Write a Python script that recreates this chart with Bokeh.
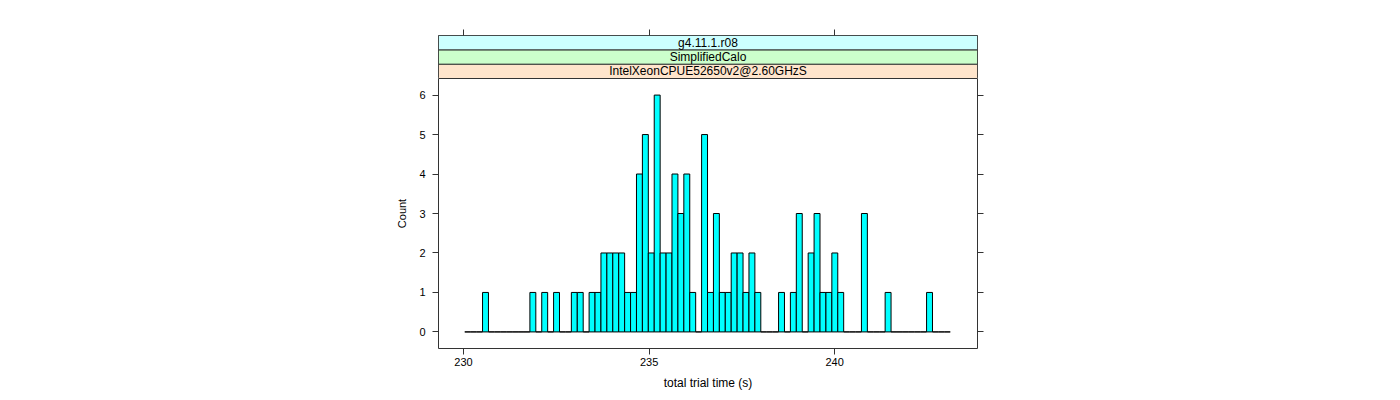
from bokeh.plotting import figure
from bokeh.models import Range1d, LinearAxis, FixedTicker, ColumnDataSource
from bokeh.layouts import column
from bokeh.embed import file_html
from bokeh.resources import INLINE
from bokeh.core.properties import value

# ---- data ----
bin_start = 230.035
bin_width = 0.1595
counts = [
    0, 0, 0, 1, 0, 0, 0, 0, 0, 0,
    0, 1, 0, 1, 0, 1, 0, 0, 1, 1,
    0, 1, 1, 2, 2, 2, 2, 1, 1, 4,
    5, 2, 6, 2, 2, 4, 3, 4, 1, 0,
    5, 1, 3, 1, 1, 2, 2, 1, 2, 1,
    0, 0, 0, 1, 0, 1, 3, 0, 2, 3,
    1, 1, 2, 1, 0, 0, 0, 3, 0, 0,
    0, 1, 0, 0, 0, 0, 0, 0, 1, 0,
    0, 0,
]
x_ticks = [230, 235, 240]
y_ticks = [0, 1, 2, 3, 4, 5, 6]
strip_labels = ["IntelXeonCPUE52650v2@2.60GHzS", "SimplifiedCalo", "g4.11.1.r08"]
strip_colors = ["#FFE5CC", "#CCFFCC", "#CCFFFF"]
x_label = "total trial time (s)"
y_label = "Count"

FONT = "Liberation Sans"
LINE = "#333333"

lefts = [bin_start + i * bin_width for i in range(len(counts))]
rights = [l + bin_width for l in lefts]
src = ColumnDataSource(dict(left=lefts, right=rights, top=counts, bottom=[0] * len(counts)))

x_range = Range1d(229.327, 243.848)

BL, BR = 438, 407

# ---- strip figure ----
strip = figure(width=1384, height=78, x_range=x_range, y_range=Range1d(0, 3),
               x_axis_location="above", y_axis_location=None,
               output_backend="svg", toolbar_location=None,
               min_border_left=BL, min_border_right=BR,
               min_border_top=35, min_border_bottom=0)
strip.grid.visible = False
strip.outline_line_color = LINE
n = len(strip_labels)
strip.quad(left=[x_range.start] * n, right=[x_range.end] * n,
           bottom=list(range(n)), top=[i + 1 for i in range(n)],
           fill_color=strip_colors, line_color=LINE, line_width=1)
mid = (x_range.start + x_range.end) / 2
strip.text(x=[mid] * n, y=[i + 0.5 for i in range(n)], text=strip_labels,
           text_font=value(FONT), text_font_size="12px",
           text_align="center", text_baseline="middle", text_color="black")
ax = strip.xaxis[0]
ax.ticker = FixedTicker(ticks=x_ticks)
ax.major_label_overrides = {t: "" for t in x_ticks}
ax.major_label_standoff = 0
ax.axis_line_color = None
ax.major_tick_out = 6
ax.major_tick_in = 0
ax.minor_tick_out = 0
ax.minor_tick_in = 0
ax.major_tick_line_color = LINE

# ---- main panel ----
p = figure(width=1384, height=314, x_range=x_range, y_range=Range1d(-0.42, 6.42),
           output_backend="svg", toolbar_location=None,
           min_border_left=BL, min_border_right=BR,
           min_border_top=0, min_border_bottom=44,
           x_axis_label=x_label, y_axis_label=y_label)
p.grid.visible = False
p.outline_line_color = LINE
p.quad(left="left", right="right", top="top", bottom="bottom", source=src,
       fill_color="#00FFFF", line_color="black", line_width=1)

right_axis = LinearAxis()
p.add_layout(right_axis, "right")

p.xaxis[0].ticker = FixedTicker(ticks=x_ticks)
p.xaxis[0].major_label_standoff = 3
for a in [p.yaxis[0], right_axis]:
    a.ticker = FixedTicker(ticks=y_ticks)
p.yaxis[0].major_label_standoff = 7
p.yaxis[0].major_label_orientation = "horizontal"
right_axis.major_label_overrides = {t: "" for t in y_ticks}
right_axis.major_label_standoff = 0

for a in [p.xaxis[0], p.yaxis[0], right_axis]:
    a.axis_line_color = None
    a.major_tick_out = 6
    a.major_tick_in = 0
    a.minor_tick_out = 0
    a.minor_tick_in = 0
    a.major_tick_line_color = LINE
    a.major_label_text_font = FONT
    a.major_label_text_color = "black"
    a.axis_label_text_font = FONT
    a.axis_label_text_font_style = "normal"
    a.axis_label_text_color = "black"
p.xaxis[0].major_label_text_font_size = "11px"
p.yaxis[0].major_label_text_font_size = "11px"
p.xaxis[0].axis_label_text_font_size = "12px"
p.yaxis[0].axis_label_text_font_size = "11px"
p.xaxis[0].axis_label_standoff = 7
p.yaxis[0].axis_label_standoff = 8

layout = column(strip, p, spacing=0)
open("out.html", "w").write(file_html(layout, INLINE))
